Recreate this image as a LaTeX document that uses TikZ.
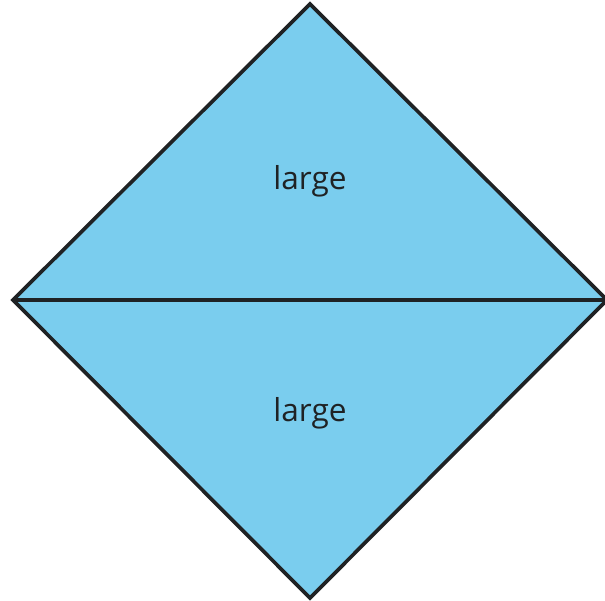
\documentclass[tikz,border=0pt]{standalone}
\usepackage{fontspec}
\setmainfont{Open Sans}
\usepackage{tikz}
\usetikzlibrary{positioning,calc}
\definecolor{tileblue}{HTML}{7ACDEE}
\definecolor{edgegray}{HTML}{1F2224}

\begin{document}
\begin{tikzpicture}[
    x=0.02cm, y=-0.02cm,
    tile/.style={fill=tileblue},
    edge/.style={draw=edgegray, line width=2.1pt, line join=miter},
    label/.style={font=\fontsize{18}{20}\selectfont, text=edgegray}
]

    % Frame
    \useasboundingbox (0,0) rectangle (605,601);

    % Corners
    \coordinate (top) at (310,4);
    \coordinate (left) at (13,300);
    \coordinate (right) at (607,300);
    \coordinate (bottom) at (310,598);

    % Triangles
    \fill[tile] (left) -- (top) -- (right) -- cycle;
    \fill[tile] (left) -- (bottom) -- (right) -- cycle;

    % Outline and cut
    \draw[edge] (left) -- (top) -- (right) -- (bottom) -- cycle;
    \draw[edge] (left) -- (right);

    % Labels
    \node[label] (upper) at (310,181) {large};
    \node[label] (lower) at (310,413) {large};

\end{tikzpicture}
\end{document}
